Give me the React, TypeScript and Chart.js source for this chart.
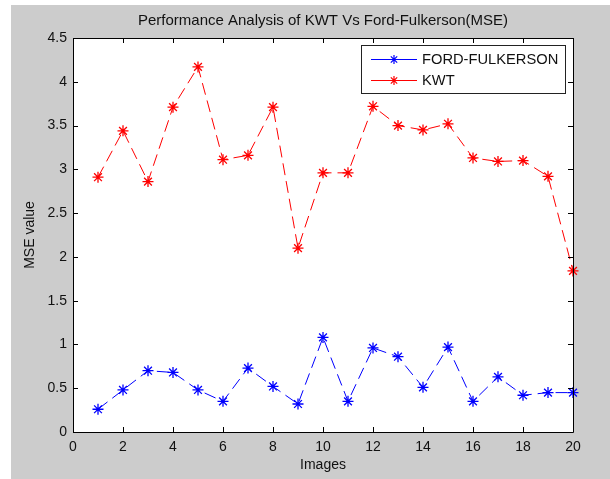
import React, { useEffect, useRef } from "react";
import { Chart, registerables } from "chart.js";

Chart.register(...registerables);

const images = [1, 2, 3, 4, 5, 6, 7, 8, 9, 10, 11, 12, 13, 14, 15, 16, 17, 18, 19, 20];
const fordFulkerson = [0.26, 0.48, 0.70, 0.68, 0.48, 0.35, 0.73, 0.52, 0.32, 1.08, 0.35, 0.96, 0.86, 0.51, 0.97, 0.35, 0.63, 0.42, 0.45, 0.45];
const kwt = [2.91, 3.44, 2.86, 3.71, 4.17, 3.11, 3.16, 3.71, 2.10, 2.96, 2.96, 3.72, 3.50, 3.45, 3.52, 3.13, 3.09, 3.10, 2.92, 1.84];
const seriesNames = ["FORD-FULKERSON", "KWT"];
const seriesColors = ["#0000ff", "#ff0000"];
const titleText = "Performance Analysis of KWT Vs Ford-Fulkerson(MSE)";
const xTitle = "Images";
const yTitle = "MSE value";

const FONT = '"Liberation Sans", Arial, sans-serif';

function drawStar(ctx: CanvasRenderingContext2D, x: number, y: number, r: number, color: string) {
  ctx.save();
  ctx.strokeStyle = color;
  ctx.lineWidth = 1.2;
  ctx.setLineDash([]);
  ctx.beginPath();
  const d = r * Math.SQRT1_2;
  ctx.moveTo(x - r, y); ctx.lineTo(x + r, y);
  ctx.moveTo(x, y - r); ctx.lineTo(x, y + r);
  ctx.moveTo(x - d, y - d); ctx.lineTo(x + d, y + d);
  ctx.moveTo(x - d, y + d); ctx.lineTo(x + d, y - d);
  ctx.stroke();
  ctx.restore();
}

const matlabPlugin = {
  id: "matlabLook",
  beforeDraw(chart: any) {
    const ctx = chart.ctx as CanvasRenderingContext2D;
    const { width, height, chartArea } = chart;
    ctx.save();
    ctx.fillStyle = "#ffffff";
    ctx.fillRect(0, 0, width, height);
    ctx.fillStyle = "#cccccc";
    ctx.fillRect(11, 5, width - 11, height - 5);
    ctx.fillStyle = "#ffffff";
    ctx.fillRect(chartArea.left, chartArea.top, chartArea.right - chartArea.left, chartArea.bottom - chartArea.top);
    ctx.restore();
  },
  afterDraw(chart: any) {
    const ctx = chart.ctx as CanvasRenderingContext2D;
    const { chartArea } = chart;
    const { left, right, top, bottom } = chartArea;
    const xs = chart.scales.x;
    const ys = chart.scales.y;
    ctx.save();
    ctx.strokeStyle = "#000000";
    ctx.lineWidth = 1;
    ctx.setLineDash([]);
    ctx.beginPath();
    ctx.rect(Math.round(left) + 0.5, Math.round(top) + 0.5, Math.round(right - left), Math.round(bottom - top));
    ctx.stroke();
    const tl = 5;
    ctx.beginPath();
    xs.ticks.forEach((t: any) => {
      const px = Math.round(xs.getPixelForValue(t.value)) + 0.5;
      ctx.moveTo(px, bottom); ctx.lineTo(px, bottom - tl);
      ctx.moveTo(px, top); ctx.lineTo(px, top + tl);
    });
    ys.ticks.forEach((t: any) => {
      const py = Math.round(ys.getPixelForValue(t.value)) + 0.5;
      ctx.moveTo(left, py); ctx.lineTo(left + tl, py);
      ctx.moveTo(right, py); ctx.lineTo(right - tl, py);
    });
    ctx.stroke();

    // Titles
    ctx.fillStyle = "#111111";
    ctx.textAlign = "center";
    ctx.textBaseline = "middle";
    ctx.font = `15px ${FONT}`;
    ctx.fillText(titleText, (left + right) / 2, 21);
    ctx.font = `14px ${FONT}`;
    ctx.fillText(xTitle, (left + right) / 2, 465);
    ctx.save();
    ctx.translate(30, (top + bottom) / 2);
    ctx.rotate(-Math.PI / 2);
    ctx.fillText(yTitle, 0, 0);
    ctx.restore();

    // Legend
    const bx = 361.5, by = 45.5, bw = 204, bh = 48;
    ctx.fillStyle = "#ffffff";
    ctx.fillRect(bx, by, bw, bh);
    ctx.strokeStyle = "#222222";
    ctx.strokeRect(bx, by, bw, bh);
    const rows = [59.5, 80.5];
    seriesNames.forEach((name, i) => {
      const y = rows[i];
      ctx.strokeStyle = seriesColors[i];
      ctx.lineWidth = 1;
      ctx.beginPath();
      ctx.moveTo(371, y); ctx.lineTo(417, y);
      ctx.stroke();
      drawStar(ctx, 394, y, 4.5, seriesColors[i]);
      ctx.fillStyle = "#111111";
      ctx.font = `14.7px ${FONT}`;
      ctx.textAlign = "left";
      ctx.textBaseline = "middle";
      ctx.fillText(name, 422, y + 0.5);
    });
    ctx.restore();
  },
};

export default function App() {
  const ref = useRef<HTMLCanvasElement | null>(null);
  useEffect(() => {
    document.body.style.margin = "0";
    const canvas = ref.current;
    if (!canvas) return;
    const mk = (vals: number[]) => images.map((x, i) => ({ x, y: vals[i] }));
    const ds = (i: number, vals: number[]) => ({
      label: seriesNames[i],
      data: mk(vals),
      borderColor: seriesColors[i],
      backgroundColor: seriesColors[i],
      borderWidth: 1,
      borderDash: [12, 6],
      pointStyle: "star",
      pointRadius: 5.5,
      pointBorderWidth: 1.3,
      pointBorderColor: seriesColors[i],
      tension: 0,
      clip: false as any,
    });
    const chart = new Chart(canvas, {
      type: "line",
      data: {
        datasets: [ds(0, fordFulkerson), ds(1, kwt)] as any,
      },
      options: {
        responsive: false,
        animation: false,
        devicePixelRatio: 1,
        layout: { padding: { left: 0, top: 38, right: 37, bottom: 0 } },
        plugins: {
          legend: { display: false },
          title: { display: false },
          tooltip: { enabled: false },
        },
        scales: {
          x: {
            type: "linear",
            min: 0,
            max: 20,
            grid: { display: false, drawTicks: false },
            border: { display: false },
            ticks: {
              stepSize: 2,
              padding: 7,
              color: "#111111",
              font: { family: FONT, size: 14 },
              maxRotation: 0,
            },
            afterFit: (s: any) => { s.height = 47; },
          },
          y: {
            type: "linear",
            min: 0,
            max: 4.5,
            grid: { display: false, drawTicks: false },
            border: { display: false },
            ticks: {
              stepSize: 0.5,
              padding: 6,
              color: "#111111",
              font: { family: FONT, size: 14 },
              callback: (v: any) => String(Number(Number(v).toFixed(1))),
            },
            afterFit: (s: any) => { s.width = 73; },
          },
        },
      },
      plugins: [matlabPlugin],
    });
    return () => chart.destroy();
  }, []);
  return (
    <div style={{ position: "fixed", left: 0, top: 0, width: 610, height: 479 }}>
      <canvas ref={ref} width={610} height={479} style={{ display: "block", width: 610, height: 479 }} />
    </div>
  );
}
